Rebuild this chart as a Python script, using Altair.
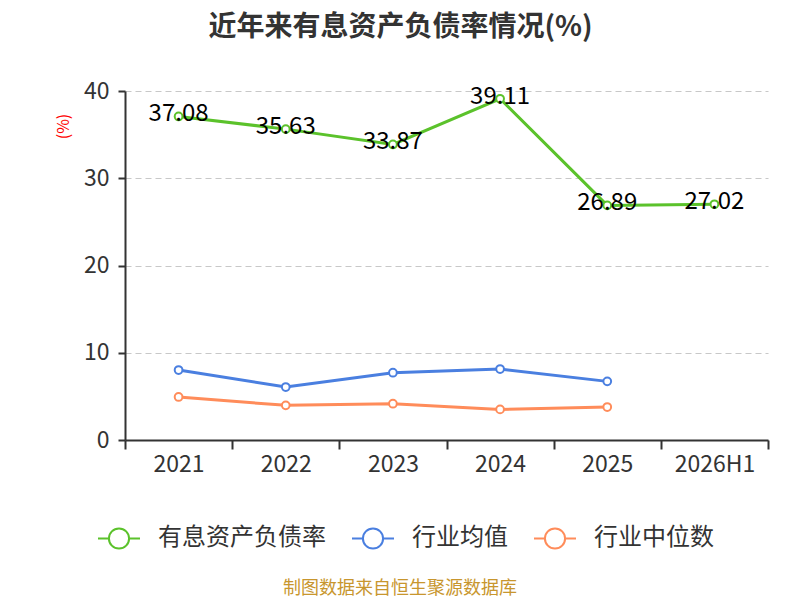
import altair as alt
import pandas as pd

years = ["2021", "2022", "2023", "2024", "2025", "2026H1"]
debt_ratio = [37.08, 35.63, 33.87, 39.11, 26.89, 27.02]
industry_mean = [8.02, 6.07, 7.71, 8.13, 6.72, None]
industry_median = [4.93, 3.97, 4.16, 3.51, 3.78, None]
series_names = ["有息资产负债率", "行业均值", "行业中位数"]
series_colors = ["#5bc22b", "#4a7fe0", "#ff8c5a"]
y_ticks = [0, 10, 20, 30, 40]
title_text = "近年来有息资产负债率情况(%)"
source_text = "制图数据来自恒生聚源数据库"

FONT = "Noto Sans CJK SC"

rows = []
for name, vals in zip(series_names, [debt_ratio, industry_mean, industry_median]):
    for yr, v in zip(years, vals):
        if v is not None:
            rows.append({"年份": yr, "系列": name, "数值": v})
df = pd.DataFrame(rows)

# 图例符号：线-圆-线
legend_symbol = (
    "M-1,0L-0.48,0M0.48,0L1,0"
    "M0.48,0A0.48,0.48,0,1,1,-0.48,0A0.48,0.48,0,1,1,0.48,0Z"
)

x_enc = alt.X(
    "年份:N",
    sort=years,
    scale=alt.Scale(type="band", domain=years, paddingInner=0, paddingOuter=0),
    axis=alt.Axis(
        title=None, labelAngle=0, tickBand="extent", labelFontSize=23,
        labelColor="#333", labelPadding=4, tickSize=9, tickColor="#333",
        tickWidth=2, domainColor="#333", domainWidth=2, grid=False,
        labelFont=FONT,
    ),
)
y_enc = alt.Y(
    "数值:Q",
    scale=alt.Scale(domain=[0, 40], nice=False),
    axis=alt.Axis(
        values=y_ticks, title="(%)", titleColor="red", titleFontSize=16,
        titleFontWeight="normal", titleAngle=270, titleX=-62, titleY=35,
        titleAlign="center", titleBaseline="middle", titleFont=FONT,
        labelFontSize=23, labelColor="#333", labelPadding=9, labelFont=FONT,
        tickSize=7, tickColor="#333", tickWidth=2,
        domainColor="#333", domainWidth=2,
        grid=True, gridDash=[6, 4], gridColor="#c8c8c8", gridWidth=1.2,
    ),
)
color_enc = alt.Color(
    "系列:N",
    scale=alt.Scale(domain=series_names, range=series_colors),
    legend=alt.Legend(
        title=None, orient="none", direction="horizontal",
        legendX=-28, legendY=425, symbolType=legend_symbol, symbolSize=1764,
        symbolStrokeWidth=2, symbolFillColor="white", labelFontSize=24,
        labelColor="#333", labelFont=FONT, labelOffset=17, columnPadding=22,
        gridAlign="each", labelLimit=300,
    ),
)

base = alt.Chart(df).encode(x=x_enc, y=y_enc, color=color_enc)

lines = base.mark_line(strokeWidth=3)
points = base.mark_point(
    filled=False, fill="white", fillOpacity=1, size=60, strokeWidth=2, opacity=1
)
labels = (
    alt.Chart(df)
    .transform_filter(alt.datum["系列"] == series_names[0])
    .mark_text(fontSize=24, color="black", dy=-2, font=FONT)
    .encode(x=x_enc, y=y_enc, text=alt.Text("数值:Q", format=".2f"))
)
footer = (
    alt.Chart(pd.DataFrame({"t": [source_text]}))
    .mark_text(fontSize=18, color="#c8962e", font=FONT)
    .encode(text="t:N", x=alt.value(275), y=alt.value(498))
)

chart = (
    alt.layer(lines, points, labels, footer)
    .properties(
        width=643,
        height=349,
        autosize=alt.AutoSizeParams(type="none"),
        padding={"left": 117, "top": 83, "right": 24, "bottom": 160},
        title=alt.TitleParams(
            title_text, fontSize=28, fontWeight="bold", color="#333",
            font=FONT, anchor="middle", dx=-46, offset=38,
        ),
    )
    .configure_view(stroke=None)
)

chart.save("out.html", embed_options={"renderer": "svg", "actions": False})
